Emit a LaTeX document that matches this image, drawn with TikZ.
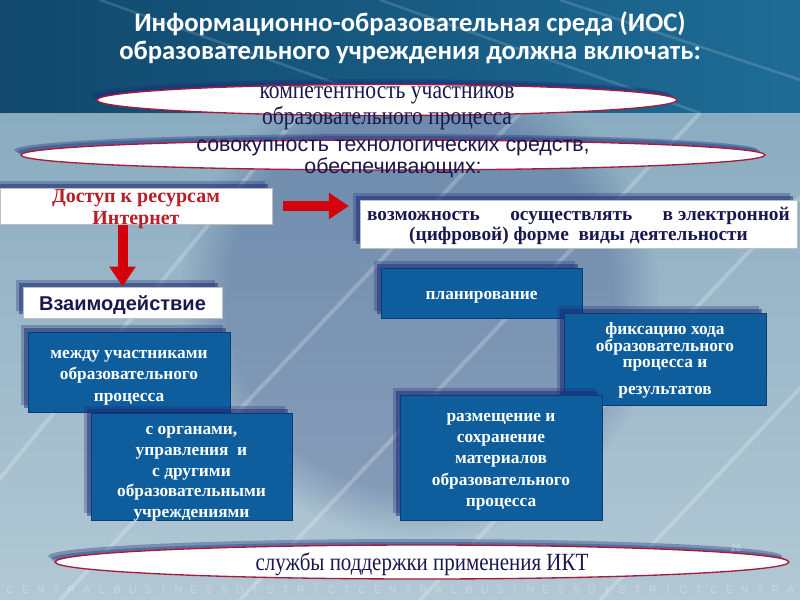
\documentclass[tikz,border=0pt]{standalone}
\usepackage{fontspec}
\setmainfont{Liberation Serif}
\setsansfont{Liberation Sans}
\newfontfamily\titlefont{Carlito}
\newfontfamily\narrowfont[FakeStretch=0.85]{Liberation Serif}
\usetikzlibrary{arrows.meta,shadows,fadings}

\definecolor{banddark}{RGB}{17,72,108}
\definecolor{bandblue}{RGB}{30,108,150}
\definecolor{paletop}{RGB}{138,172,192}
\definecolor{palebot}{RGB}{178,200,212}
\definecolor{boxblue}{RGB}{14,94,158}
\definecolor{boxrim}{RGB}{10,60,120}
\definecolor{navyshade}{RGB}{28,44,118}
\definecolor{inknavy}{RGB}{24,24,78}
\definecolor{inkred}{RGB}{182,30,40}
\definecolor{arrowred}{RGB}{212,0,12}
\definecolor{ovalrim}{RGB}{165,28,62}

\tikzset{every picture/.style={line width=0.75pt}}
\tikzset{
	softshadow/.style={
		drop shadow={shadow xshift=-5pt, shadow yshift=5pt, fill=navyshade, opacity=0.3},
		drop shadow={shadow xshift=-3pt, shadow yshift=3pt, fill=navyshade, opacity=0.5}},
	bluebox/.style={fill=boxblue, draw=boxrim, inner sep=0pt, softshadow},
	bluetext/.style={text=white, align=center, inner sep=0pt, font=\bfseries\fontsize{13}{16}\selectfont},
	whitebox/.style={fill=white, draw=black!25, inner sep=0pt, softshadow},
	oval/.style={fill=white, draw=ovalrim, line width=1pt},
	ovalshade/.style={fill=navyshade, opacity=0.35},
	ovaltext/.style={text=inknavy, align=center, inner sep=0pt},
	redarrow/.style={draw=arrowred, line width=7.5pt, -{Triangle[width=19pt,length=15pt]}},
	brandletter/.style={text=white, opacity=0.3, inner sep=0pt, font=\sffamily\fontsize{8}{9}\selectfont},
}

\begin{document}
\begin{tikzpicture}[x=0.75pt,y=0.75pt,yscale=-1,xscale=1]
	\useasboundingbox (0,0) rectangle (800,600);

	%Shape: Background
	\shade[top color=paletop, bottom color=palebot] (0,113) rectangle (800,600);
	\fill[navyshade, opacity=0.25, path fading=circle with fuzzy edge 20 percent] (420,300) circle (240);
	\foreach \a/\b in {-100/300, 60/520, 240/700, 420/880, 600/1060} {
		\draw[white, opacity=0.22, line width=3pt] (\a,600) -- (\b,113);
	}
	\shade[left color=banddark, right color=bandblue] (0,0) rectangle (800,113);
	\foreach \a/\b in {100/420, 380/700, 560/900} {
		\draw[white, opacity=0.15, line width=2pt] (\a,0) -- (\b,113);
	}
	\draw[white, opacity=0.5] (0,113) -- (800,113);
	\fill[banddark] (0,0) rectangle (4,113);

	% Text Node
	\node[font=\titlefont\bfseries\fontsize{20}{21}\selectfont, text=white, align=center] (title) at (410,38) {Информационно-образовательная среда (ИОС)\\образовательного учреждения должна включать:};

	%Shape: Ellipse
	\fill[ovalshade] (380,95) ellipse (290 and 16);
	\fill[ovalshade] (383,97) ellipse (290 and 16);
	\draw[oval] (387,100) ellipse (290 and 15.5);
	% Text Node
	\node[ovaltext, font=\narrowfont\fontsize{19}{19.5}\selectfont] (compet) at (387,108) {компетентность участников\\образовательного процесса};

	%Shape: Ellipse
	\fill[ovalshade] (386,150) ellipse (372 and 16);
	\fill[ovalshade] (389,152) ellipse (372 and 16);
	\draw[oval] (393,155) ellipse (372 and 15);
	% Text Node
	\node[ovaltext, font=\sffamily\fontsize{16}{16.5}\selectfont] (techno) at (393,159) {совокупность технологических средств,\\обеспечивающих:};

	%Shape: Rectangle
	\node[whitebox, minimum width=204pt, minimum height=27pt] (access) at (136,206) {};
	\node[whitebox, minimum width=327.75pt, minimum height=36pt] (possib) at (578.5,224) {};
	\node[whitebox, minimum width=149.25pt, minimum height=23.25pt] (interact) at (122.5,302.5) {};
	% Text Node
	\node[ovaltext, text=inkred, font=\bfseries\fontsize{15}{16}\selectfont] (access text) at (136,209) {Доступ к ресурсам\\Интернет};
	% Text Node
	\node[ovaltext, font=\bfseries\fontsize{14.5}{15}\selectfont] (possib text) at (578.5,226) {\makebox[317pt]{возможность\hfill осуществлять\hfill в электронной}\\(цифровой) форме\ \ виды деятельности};
	% Text Node
	\node[ovaltext, font=\sffamily\bfseries\fontsize{15}{16}\selectfont] (interact text) at (122.5,305) {Взаимодействие};

	%Shape: Arrow
	\draw[redarrow] ([xshift=8pt]access.east) -- ([xshift=-8pt]possib.west |- access.east);
	\draw[redarrow] (interact.north |- access.south) -- (interact.north);

	%Shape: Rectangle
	\node[bluebox, minimum width=150.75pt, minimum height=37.5pt] (plan) at (481.5,293) {};
	\node[bluebox, minimum width=151.5pt, minimum height=69pt] (fixing) at (665,359) {};
	\node[bluebox, minimum width=151.5pt, minimum height=60pt] (between) at (129,372) {};
	\node[bluebox, minimum width=150.75pt, minimum height=80.25pt] (organs) at (191.5,466.5) {};
	\node[bluebox, minimum width=151.5pt, minimum height=93.75pt] (storing) at (501,457.5) {};
	% Text Node
	\node[bluetext] (plan text) at (481.5,297) {планирование};
	% Text Node
	\node[bluetext, font=\bfseries\fontsize{13}{12}\selectfont] (fixing text) at (665,360) {фиксацию хода\\образовательного\\процесса и\\[8pt]результатов};
	% Text Node
	\node[bluetext] (between text) at (129,377.5) {между участниками\\образовательного\\процесса};
	% Text Node
	\node[bluetext, font=\bfseries\fontsize{13}{15.5}\selectfont] (organs text) at (191.5,474) {с органами,\\управления\ \ и\\с другими\\образовательными\\учреждениями};
	% Text Node
	\node[bluetext] (storing text) at (501,461.5) {размещение и\\сохранение\\материалов\\образовательного\\процесса};

	%Shape: Ellipse
	\fill[ovalshade] (415,556) ellipse (367 and 17);
	\fill[ovalshade] (418,559) ellipse (367 and 17);
	\draw[oval] (422,562) ellipse (367 and 17);
	% Text Node
	\node[ovaltext, font=\narrowfont\fontsize{18.5}{19}\selectfont] (support) at (422,564) {службы поддержки применения ИКТ};

	% Text Node
	\node[text=white, opacity=0.5, font=\sffamily\fontsize{7}{8}\selectfont] (slideno) at (736,548) {26};
	\foreach \ch [count=\i] in {C,E,N,T,R,A,L,B,U,S,I,N,E,S,S,D,I,S,T,R,I,C,T,C,E,N,T,R,A,L,B,U,S,I,N,E,S,S,D,I,S,T,R,I,C,T,C,E,N,T,R,A} {
		\node[brandletter] (brand\i) at (\i*15.3-5,590) {\ch};
	}

\end{tikzpicture}
\end{document}
